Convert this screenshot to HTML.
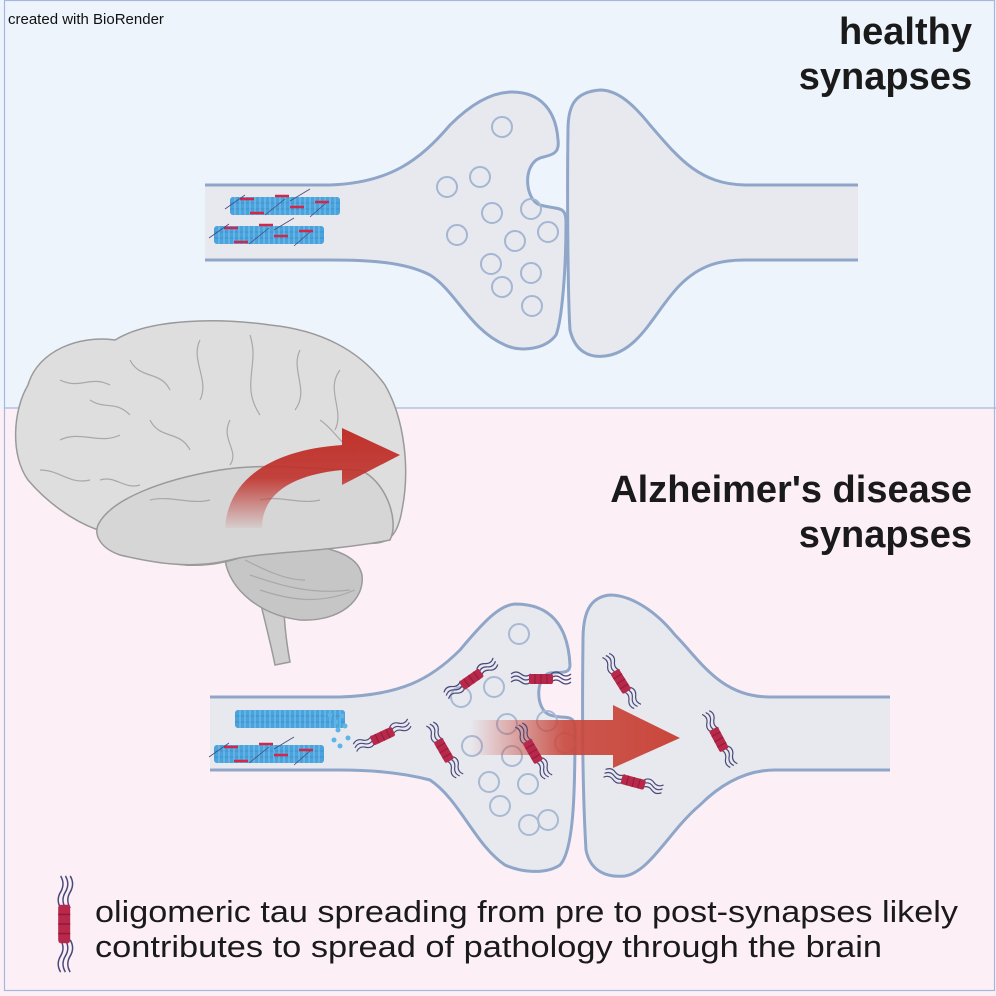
<!DOCTYPE html>
<html><head><meta charset="utf-8"><style>
html,body{margin:0;padding:0;background:#fff}
svg{display:block}
text{font-family:"Liberation Sans",sans-serif}
</style></head><body>
<svg width="996" height="996" viewBox="0 0 996 996" xmlns="http://www.w3.org/2000/svg">
<defs>
<linearGradient id="fadeR" x1="0" x2="1" y1="0" y2="0">
<stop offset="0" stop-color="#c9473c" stop-opacity="0"/>
<stop offset="0.45" stop-color="#c9473c" stop-opacity="0.9"/>
<stop offset="1" stop-color="#c9473c"/>
</linearGradient>
<linearGradient id="fadeB" x1="0" x2="0" y1="1" y2="0">
<stop offset="0" stop-color="#c0312b" stop-opacity="0.05"/>
<stop offset="0.5" stop-color="#c0312b" stop-opacity="0.9"/>
<stop offset="1" stop-color="#c0312b"/>
</linearGradient>
<g id="tau">
<path d="M-30,-6 q5,-4 10,0 t10,0 M-30,-2 q5,-4 10,0 t10,0 M-30,2 q5,-4 10,0 t10,0 M10,-6 q5,-4 10,0 t10,0 M10,-2 q5,-4 10,0 t10,0 M10,2 q5,-4 10,0 t10,0" stroke="#4a4a7a" stroke-width="1.2" fill="none"/>
<rect x="-12" y="-6" width="24" height="10" rx="2" fill="#b8284a"/>
<path d="M-6,-6v10M0,-6v10M6,-6v10" stroke="#8e1c38" stroke-width="1"/>
</g>
<g id="mt">
<rect x="0" y="0" width="110" height="18" rx="3" fill="#4aa3dc"/>
<path d="M0,6H110M0,12H110" stroke="#3a92cf" stroke-width="1"/>
<path d="M5,0v18M10,0v18M15,0v18M20,0v18M25,0v18M30,0v18M35,0v18M40,0v18M45,0v18M50,0v18M55,0v18M60,0v18M65,0v18M70,0v18M75,0v18M80,0v18M85,0v18M90,0v18M95,0v18M100,0v18M105,0v18" stroke="#7cc3ec" stroke-width="1"/>
</g>
<g id="mtt">
<use href="#mt"/>
<path d="M10,2h14M45,-1h14M60,10h14M20,16h14M85,5h14" stroke="#d0284a" stroke-width="2.5"/>
<path d="M-5,12 l20,-14 M35,18 l20,-16 M60,4 l20,-12 M80,20 l16,-14" stroke="#4a4a7a" stroke-width="0.8" fill="none"/>
</g>
</defs>
<rect x="0" y="0" width="996" height="408" fill="#edf4fc"/>
<rect x="0" y="408" width="996" height="588" fill="#fcf0f6"/>
<rect x="4.5" y="0.5" width="990" height="990" fill="none" stroke="#a7b6df" stroke-width="1.2"/>
<line x1="4" y1="408" x2="996" y2="408" stroke="#a7b6df" stroke-width="1.2"/>

<text x="8" y="24" font-size="15" fill="#111">created with BioRender</text>
<text x="972" y="44" font-size="38" font-weight="bold" text-anchor="end" fill="#1a1a1a">healthy</text>
<text x="972" y="89" font-size="38" font-weight="bold" text-anchor="end" fill="#1a1a1a">synapses</text>
<text x="972" y="502" font-size="38" font-weight="bold" text-anchor="end" fill="#1a1a1a">Alzheimer's disease</text>
<text x="972" y="547" font-size="38" font-weight="bold" text-anchor="end" fill="#1a1a1a">synapses</text>

<!-- TOP SYNAPSE -->
<g stroke="#8fa6c9" stroke-width="3" fill="#e8e9ef">
<path d="M205,185 L330,185 C390,183 420,160 450,125 C475,100 495,92 512,92 C540,92 556,110 558,140 C560,155 550,155 540,158 C522,165 525,200 540,205 C558,210 566,205 566,222 C566,270 562,320 556,335 C545,350 520,352 505,345 C470,330 455,290 430,275 C405,262 370,260 330,260 L205,260"/>
<path d="M858,185 L745,185 C700,184 680,160 650,125 C630,100 615,90 600,90 C575,92 568,105 568,130 C567,200 568,300 570,330 C575,352 590,358 605,356 C640,352 655,310 680,285 C700,265 720,260 745,260 L858,260"/>
</g>
<g fill="none" stroke="#a3b6d3" stroke-width="2">
<circle cx="502" cy="127" r="10"/><circle cx="480" cy="177" r="10"/><circle cx="447" cy="187" r="10"/>
<circle cx="492" cy="213" r="10"/><circle cx="531" cy="209" r="10"/><circle cx="548" cy="232" r="10"/>
<circle cx="457" cy="235" r="10"/><circle cx="515" cy="241" r="10"/><circle cx="491" cy="264" r="10"/>
<circle cx="531" cy="273" r="10"/><circle cx="502" cy="287" r="10"/><circle cx="532" cy="306" r="10"/>
</g>
<use href="#mtt" x="230" y="197"/>
<use href="#mtt" x="214" y="226"/>

<!-- BRAIN -->
<g stroke="#9a9a9a" stroke-width="1.5">
<path d="M255,580 C262,610 270,640 275,665 L290,662 C286,640 282,612 285,585 Z" fill="#cfcfcf"/>
<path d="M225,560 C230,590 260,615 300,620 C340,622 365,600 362,575 C358,555 330,545 290,545 C250,545 225,548 225,560 Z" fill="#c6c6c6"/>
<path d="M28,385 C38,350 80,335 115,340 C150,318 220,318 270,325 C320,330 360,350 385,385 C405,420 410,470 402,510 C397,540 385,545 365,543 C330,550 290,550 255,552 C225,565 190,570 160,560 C125,556 105,545 98,530 C70,520 45,500 28,480 C10,455 13,410 28,385 Z" fill="#dedede"/>
<path d="M98,525 C110,500 160,480 220,470 C270,462 320,470 360,470 C385,480 400,520 390,540 C330,552 260,552 230,560 C190,570 150,562 120,555 C100,548 94,535 98,525 Z" fill="#d6d6d6"/>
</g>
<g stroke="#a8a8a8" stroke-width="1.2" fill="none">
<path d="M60,380 c20,10 30,-5 50,5 M130,360 c10,20 30,10 40,30 M200,340 c-10,20 10,40 0,60 M250,335 c10,30 -10,50 10,80 M300,350 c-10,20 10,40 -5,60 M340,370 c-15,20 5,40 -5,60 M60,440 c20,-10 40,5 60,-5 M150,420 c10,20 30,10 40,30 M230,420 c-10,20 10,30 0,45 M40,470 c20,0 30,15 50,10 M150,500 c20,-5 40,5 60,0 M260,500 c20,-5 40,5 60,0 M245,560 c20,10 40,20 60,20 M250,575 c30,10 60,20 100,15 M260,590 c30,10 60,15 95,0 M90,400 c15,10 25,0 40,15 M320,420 c15,10 20,25 35,30 M100,480 c15,-5 25,10 40,5"/>
</g>
<path d="M225,528 C228,480 270,450 342,445 L342,428 L400,455 L342,485 L342,470 C290,475 262,495 262,528 Z" fill="url(#fadeB)"/>

<!-- BOTTOM SYNAPSE -->
<g stroke="#8fa6c9" stroke-width="3" fill="#e8e9ef">
<path d="M210,697 L340,697 C400,695 430,680 460,650 C485,620 500,605 515,604 C550,604 568,625 570,665 C570,674 562,672 550,673 C535,676 535,710 550,715 C565,720 575,712 575,730 C575,790 574,850 560,865 C545,875 520,872 505,865 C475,845 460,800 430,780 C400,772 370,770 340,770 L210,770"/>
<path d="M890,697 L770,697 C720,697 700,660 675,635 C655,610 630,595 610,595 C590,597 583,612 583,640 C582,720 583,800 586,850 C590,870 605,878 625,876 C650,872 670,830 700,805 C725,780 750,770 775,770 L890,770"/>
</g>
<g fill="none" stroke="#a8b9d4" stroke-width="2">
<circle cx="519" cy="634" r="10"/><circle cx="494" cy="687" r="10"/><circle cx="461" cy="697" r="10"/>
<circle cx="507" cy="724" r="10"/><circle cx="547" cy="721" r="10"/><circle cx="565" cy="743" r="10"/>
<circle cx="472" cy="746" r="10"/><circle cx="512" cy="756" r="10"/><circle cx="489" cy="782" r="10"/>
<circle cx="528" cy="784" r="10"/><circle cx="500" cy="806" r="10"/><circle cx="529" cy="825" r="10"/><circle cx="548" cy="820" r="10"/>
</g>
<use href="#mt" x="235" y="710"/>
<g fill="#5fb4e6"><circle cx="330" cy="715" r="2.5"/><circle cx="336" cy="722" r="2.5"/><circle cx="342" cy="716" r="2.5"/><circle cx="338" cy="730" r="2.5"/><circle cx="345" cy="726" r="2.5"/><circle cx="334" cy="740" r="2.5"/><circle cx="348" cy="738" r="2.5"/><circle cx="340" cy="746" r="2.5"/></g>
<use href="#mtt" x="214" y="745"/>
<path d="M470,720 L613,720 L613,705 L680,738 L613,768 L613,755 L470,755 Z" fill="url(#fadeR)"/>
<use href="#tau" transform="translate(383,737) rotate(-25)"/>
<use href="#tau" transform="translate(472,680) rotate(-35)"/>
<use href="#tau" transform="translate(541,680) rotate(0)"/>
<use href="#tau" transform="translate(443,751) rotate(60)"/>
<use href="#tau" transform="translate(532,752) rotate(60)"/>
<use href="#tau" transform="translate(620,682) rotate(58)"/>
<use href="#tau" transform="translate(718,740) rotate(62)"/>
<use href="#tau" transform="translate(633,783) rotate(15)"/>

<g transform="translate(63,924) rotate(90)"><use href="#tau" transform="scale(1.6,1.2)"/></g>
<text x="95" y="922" font-size="31" fill="#1a1a1a" textLength="863" lengthAdjust="spacingAndGlyphs">oligomeric tau spreading from pre to post-synapses likely</text>
<text x="95" y="957" font-size="31" fill="#1a1a1a" textLength="787" lengthAdjust="spacingAndGlyphs">contributes to spread of pathology through the brain</text>
</svg>
</body></html>
